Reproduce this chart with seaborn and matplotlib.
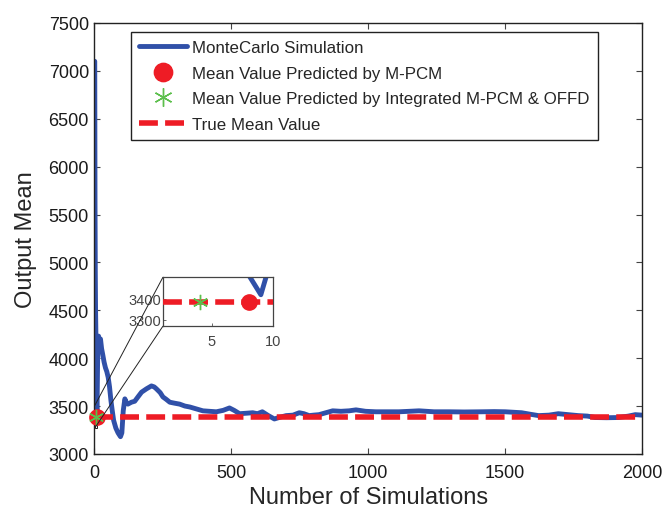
import numpy as np
import matplotlib
matplotlib.use("Agg")
import matplotlib.pyplot as plt
import seaborn as sns
from mpl_toolkits.axes_grid1.inset_locator import mark_inset

## Data

# running mean of the Monte Carlo simulation
mc_n = [1, 2, 3, 4, 5, 6, 7, 8, 9, 10, 12, 15, 18, 22, 26, 30, 35, 40, 45, 50,
        55, 60, 65, 70, 78, 86, 95, 100, 105, 111, 116, 122, 135, 147, 160,
        172, 190, 208, 218, 226, 240, 250, 262, 275, 292, 311, 330, 348, 372,
        396, 420, 445, 470, 493, 510, 530, 555, 578, 595, 613, 635, 657, 680,
        700, 725, 748, 765, 784, 800, 820, 845, 870, 900, 930, 955, 990, 1028,
        1070, 1112, 1150, 1185, 1240, 1294, 1350, 1414, 1460, 1500, 1530, 1560,
        1590, 1622, 1660, 1694, 1730, 1767, 1800, 1829, 1870, 1913, 1950, 1975,
        2000]
mc_mean = [7100, 5600, 4900, 4500, 4300, 4000, 3700, 3515, 3420, 3620, 4100,
           4230, 4180, 4200, 4100, 4040, 3960, 3900, 3860, 3800, 3700, 3560,
           3450, 3350, 3270, 3220, 3180, 3220, 3450, 3575, 3540, 3520, 3540,
           3550, 3600, 3645, 3680, 3710, 3700, 3680, 3640, 3595, 3570, 3540,
           3530, 3520, 3500, 3490, 3470, 3450, 3445, 3440, 3455, 3480, 3455,
           3420, 3425, 3430, 3420, 3440, 3400, 3365, 3385, 3400, 3405, 3430,
           3420, 3400, 3405, 3410, 3430, 3450, 3445, 3450, 3460, 3445, 3440,
           3440, 3440, 3445, 3450, 3440, 3440, 3438, 3440, 3442, 3440, 3435,
           3430, 3415, 3400, 3405, 3420, 3410, 3400, 3395, 3380, 3378, 3380,
           3395, 3410, 3405]

true_mean = 3385
mpcm_n, mpcm_mean = [8], [3385]          # Mean value predicted by M-PCM
offd_n, offd_mean = [4], [3385]          # Integrated M-PCM & OFFD

labels = ['MonteCarlo Simulation',
          'Mean Value Predicted by M-PCM',
          'Mean Value Predicted by Integrated M-PCM & OFFD',
          'True Mean Value']

blue = '#3050a8'
red = '#ee1c25'
green = '#5cbf4c'
asterisk = (6, 2, 0)

## Style

sns.set_theme(style='ticks')
plt.rcParams['font.family'] = ['Liberation Sans', 'DejaVu Sans']
plt.rcParams.update({
    'xtick.direction': 'in', 'ytick.direction': 'in',
    'xtick.top': True, 'ytick.right': True,
    'axes.edgecolor': '#222222', 'axes.linewidth': 1.0,
    'xtick.color': '#444444', 'ytick.color': '#444444',
    'xtick.labelcolor': '#1a1a1a', 'ytick.labelcolor': '#1a1a1a',
})

fig = plt.figure(figsize=(6.63, 5.10), dpi=100)
ax = fig.add_axes([0.1425, 0.108, 0.826, 0.845])

def draw(a, marker_size):
    sns.lineplot(x=mc_n, y=mc_mean, ax=a, color=blue, lw=3.5,
                 label=labels[0], legend=False)
    a.plot(mpcm_n, mpcm_mean, 'o', color=red, ms=marker_size, mec=red,
           label=labels[1], clip_on=False, zorder=5)
    a.plot(offd_n, offd_mean, marker=asterisk, ls='none', color=green,
           ms=marker_size, mew=1.0, label=labels[2], clip_on=False, zorder=6)
    a.axhline(true_mean, color=red, lw=4, dashes=(3.4, 1.3), label=labels[3],
              zorder=4)

draw(ax, 11)
ax.set_xlim(0, 2000)
ax.set_ylim(3000, 7500)
ax.set_xticks(np.arange(0, 2001, 500))
ax.set_yticks(np.arange(3000, 7501, 500))
ax.tick_params(labelsize=13, length=4, width=0.8)
ax.tick_params(axis='x', pad=7)
ax.tick_params(axis='y', pad=4)
ax.set_xlabel('Number of Simulations', fontsize=17, labelpad=4)
ax.set_ylabel('Output Mean', fontsize=17, labelpad=8)

leg = ax.legend(loc='upper left', bbox_to_anchor=(0.066, 0.98), fontsize=12.2,
                frameon=True, fancybox=False, edgecolor='#222222',
                framealpha=1, handlelength=2.8, handletextpad=0.35,
                labelspacing=0.62, borderpad=0.5, borderaxespad=0,
                markerscale=1.2)
leg.get_frame().set_linewidth(1.0)

## Inset zoom around the first few simulations

axin = fig.add_axes([0.2459, 0.3588, 0.166, 0.096])
draw(axin, 11)
axin.set_xlim(1, 10)
axin.set_ylim(3270, 3505)
axin.set_xticks([5, 10])
axin.set_yticks([3300, 3400])
axin.tick_params(labelsize=10.5, length=2, width=0.6, colors='#555555',
                 labelcolor='#444444', top=False, right=False, pad=6)
axin.tick_params(axis='y', pad=1)
for s in axin.spines.values():
    s.set_edgecolor('#444444')
    s.set_linewidth(0.9)
axin.set_xlabel('')
axin.set_ylabel('')
axin.set_zorder(10)
mark_inset(ax, axin, loc1=2, loc2=3, fc='none', ec='#222222', lw=0.7)

plt.savefig('out.png', dpi=100)
